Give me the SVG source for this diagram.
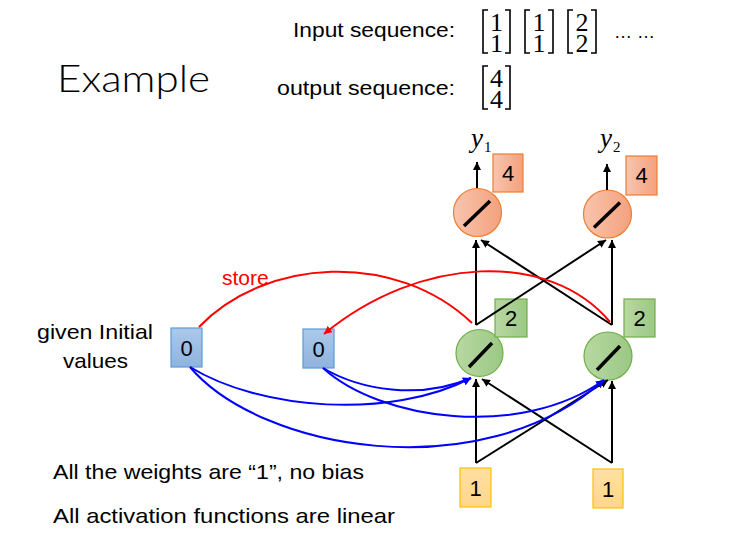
<svg xmlns="http://www.w3.org/2000/svg" width="747" height="560" viewBox="0 0 747 560">
<defs>
<style>
.t{font-family:"Liberation Sans",Arial,sans-serif;fill:#000}
.m{font-family:"Liberation Serif","Times New Roman",serif;fill:#000;font-size:26px;text-anchor:middle}
.br{fill:none;stroke:#000;stroke-width:1.6}
.lbl{font-family:"Liberation Sans",Arial,sans-serif;font-size:22px;fill:#000;text-anchor:middle}
.blk{fill:none;stroke:#000;stroke-width:2;marker-end:url(#ab)}
.red{fill:none;stroke:#ff0000;stroke-width:2}
.blu{fill:none;stroke:#0000ff;stroke-width:2;marker-end:url(#au)}
.slash{stroke:#000;stroke-width:3.5;stroke-linecap:butt}
</style>
<linearGradient id="go" x1="0" y1="0" x2="1" y2="0"><stop offset="0" stop-color="#f8c5ae"/><stop offset="1" stop-color="#f4a17d"/></linearGradient>
<linearGradient id="gg" x1="0" y1="0" x2="1" y2="0"><stop offset="0" stop-color="#b8d8a3"/><stop offset="1" stop-color="#9bc884"/></linearGradient>
<linearGradient id="gb" x1="0" y1="0" x2="0" y2="1"><stop offset="0" stop-color="#abc9ea"/><stop offset="1" stop-color="#8fb3de"/></linearGradient>
<linearGradient id="gy" x1="0" y1="0" x2="0" y2="1"><stop offset="0" stop-color="#ffe0a3"/><stop offset="1" stop-color="#ffd68a"/></linearGradient>
<marker id="ab" viewBox="0 0 10 10" refX="10" refY="5" markerWidth="8" markerHeight="8" markerUnits="userSpaceOnUse" orient="auto"><path d="M0,0 L10,5 L0,10 z" fill="#000"/></marker>
<marker id="au" viewBox="0 0 10 10" refX="10" refY="5" markerWidth="8" markerHeight="8" markerUnits="userSpaceOnUse" orient="auto"><path d="M0,0 L10,5 L0,10 z" fill="#0000ff"/></marker>
<marker id="ar" viewBox="0 0 10 10" refX="10" refY="5" markerWidth="8" markerHeight="8" markerUnits="userSpaceOnUse" orient="auto"><path d="M0,0 L10,5 L0,10 z" fill="#ff0000"/></marker>
</defs>
<rect width="747" height="560" fill="#fff"/>

<g id="title">
<text x="57" y="92" font-family="Lato,'Liberation Sans',Arial,sans-serif" font-weight="300" font-size="38" textLength="153" lengthAdjust="spacingAndGlyphs">Example</text>
</g>

<g id="sequences">
<text class="t" x="293" y="37" font-size="21" textLength="162" lengthAdjust="spacingAndGlyphs">Input sequence:</text>
<text class="t" x="277" y="95" font-size="21" textLength="178" lengthAdjust="spacingAndGlyphs">output sequence:</text>
<path class="br" d="M488,10 H483 V53 H488 M505,10 H510 V53 H505"/>
<text class="m"><tspan x="496.5" y="31">1</tspan><tspan x="496.5" y="52">1</tspan></text>
<path class="br" d="M530,10 H525 V53 H530 M548,10 H553 V53 H548"/>
<text class="m"><tspan x="539" y="31">1</tspan><tspan x="539" y="52">1</tspan></text>
<path class="br" d="M573,10 H568 V53 H573 M591,10 H596 V53 H591"/>
<text class="m"><tspan x="582" y="31">2</tspan><tspan x="582" y="52">2</tspan></text>
<text class="t" x="614" y="38" font-size="18">… …</text>
<path class="br" d="M488,66 H483 V109 H488 M505,66 H510 V109 H505"/>
<text class="m"><tspan x="496.5" y="87">4</tspan><tspan x="496.5" y="108">4</tspan></text>
</g>

<g id="notes">
<text class="t" x="37" y="339" font-size="21" textLength="116" lengthAdjust="spacingAndGlyphs">given Initial</text>
<text class="t" x="63" y="368" font-size="21" textLength="65" lengthAdjust="spacingAndGlyphs">values</text>
<text class="t" x="53" y="479" font-size="21" textLength="311" lengthAdjust="spacingAndGlyphs">All the weights are “1”, no bias</text>
<text class="t" x="53" y="523" font-size="21" textLength="342" lengthAdjust="spacingAndGlyphs">All activation functions are linear</text>
</g>

<g id="y1">
<text x="471" y="147" font-family="Liberation Serif,serif" font-style="italic" font-size="27">y</text>
<text x="484" y="152" font-family="Liberation Serif,serif" font-size="15">1</text>
</g>
<g id="y2">
<text x="600" y="147" font-family="Liberation Serif,serif" font-style="italic" font-size="27">y</text>
<text x="613" y="152" font-family="Liberation Serif,serif" font-size="15">2</text>
</g>

<g id="out1">
<circle cx="477.5" cy="212.5" r="24" fill="url(#go)" stroke="#ed7d31" stroke-width="1.2"/>
<line class="slash" x1="464" y1="226" x2="490" y2="201"/>
</g>
<g id="out2">
<circle cx="607.5" cy="214" r="24" fill="url(#go)" stroke="#ed7d31" stroke-width="1.2"/>
<line class="slash" x1="594" y1="227.5" x2="620" y2="202.5"/>
</g>
<g id="outval1">
<rect x="493" y="154" width="30" height="38" fill="url(#go)" stroke="#ed7d31" stroke-width="1.2"/>
<text class="lbl" x="508" y="181">4</text>
</g>
<g id="outval2">
<rect x="626" y="156" width="31" height="39" fill="url(#go)" stroke="#ed7d31" stroke-width="1.2"/>
<text class="lbl" x="641.5" y="183">4</text>
</g>

<g id="hid1">
<circle cx="479.5" cy="353" r="23.5" fill="url(#gg)" stroke="#70ad47" stroke-width="1.2"/>
<line class="slash" x1="469" y1="367" x2="492" y2="343"/>
</g>
<g id="hid2">
<circle cx="608" cy="356" r="24" fill="url(#gg)" stroke="#70ad47" stroke-width="1.2"/>
<line class="slash" x1="597" y1="370" x2="620" y2="346"/>
</g>
<g id="hidval1">
<rect x="495" y="299" width="32" height="38" fill="url(#gg)" stroke="#70ad47" stroke-width="1.2"/>
<text class="lbl" x="511" y="326">2</text>
</g>
<g id="hidval2">
<rect x="624" y="299" width="31" height="38" fill="url(#gg)" stroke="#70ad47" stroke-width="1.2"/>
<text class="lbl" x="639.5" y="326">2</text>
</g>

<g id="mem1">
<rect x="171" y="328" width="31" height="39" fill="url(#gb)" stroke="#5b9bd5" stroke-width="1.2"/>
<text class="lbl" x="186.5" y="356">0</text>
</g>
<g id="mem2">
<rect x="303" y="329" width="31" height="39" fill="url(#gb)" stroke="#5b9bd5" stroke-width="1.2"/>
<text class="lbl" x="318.5" y="357">0</text>
</g>

<g id="in1">
<rect x="460" y="468" width="31" height="39" fill="url(#gy)" stroke="#ffc000" stroke-width="1.2"/>
<text class="lbl" x="475.5" y="496">1</text>
</g>
<g id="in2">
<rect x="593" y="469" width="30" height="39" fill="url(#gy)" stroke="#ffc000" stroke-width="1.2"/>
<text class="lbl" x="608" y="497">1</text>
</g>

<g id="connectors">
<path class="blk" d="M477,188 V162"/>
<path class="blk" d="M607,190 V164"/>
<path class="blk" d="M476,325 V240"/>
<path class="blk" d="M476,325 L606,240"/>
<path class="blk" d="M612,325 V240"/>
<path class="blk" d="M612,325 L481,240"/>
<path class="blk" d="M476,463 V379"/>
<path class="blk" d="M476,463 L608,380"/>
<path class="blk" d="M612,463 V381"/>
<path class="blk" d="M612,463 L482,379"/>
<path class="red" d="M199,327 C265,258 395,250 472,323"/>
<path class="red" d="M610,322 C550,250 420,255 324,334" marker-end="url(#ar)"/>
<text class="t" x="222" y="285" font-size="21" style="fill:#ff0000">store</text>
<path class="blu" d="M190,367 C260,410 390,420 471,378"/>
<path class="blu" d="M190,367 C260,450 480,490 604,380"/>
<path class="blu" d="M323,368 C360,390 420,400 471,378"/>
<path class="blu" d="M323,368 C380,420 520,440 604,380"/>
</g>
</svg>
